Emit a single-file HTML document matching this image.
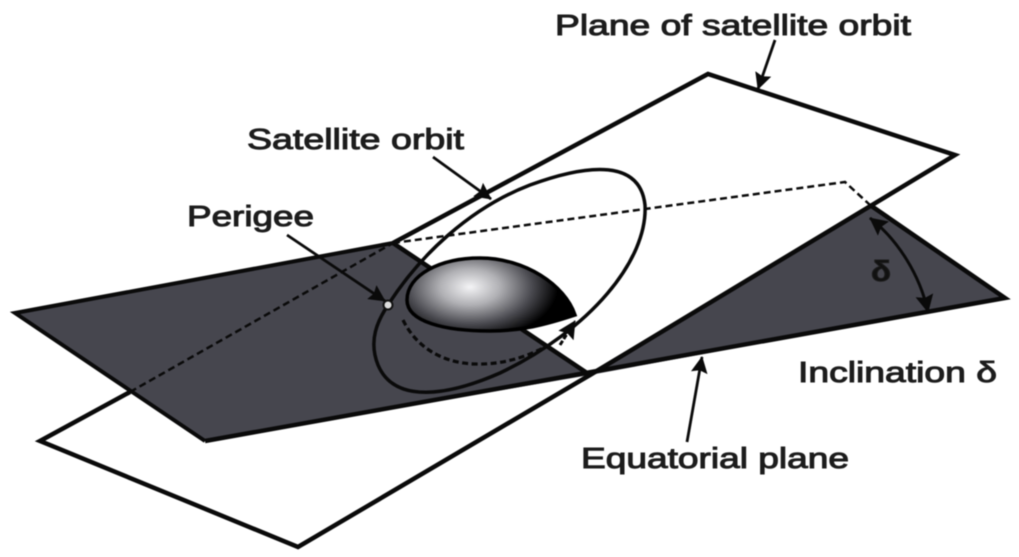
<!DOCTYPE html>
<html><head><meta charset="utf-8"><style>
html,body{margin:0;padding:0;background:#fff;width:1019px;height:557px;overflow:hidden}
svg{display:block;filter:blur(.6px)}
text{font-family:"Liberation Sans",sans-serif;font-size:29px;fill:#1c1c1c;stroke:#1c1c1c;stroke-width:1px}
</style></head><body>
<svg width="1019" height="557" viewBox="0 0 1019 557" xmlns="http://www.w3.org/2000/svg">
<defs>
<radialGradient id="s" gradientUnits="userSpaceOnUse" cx="470" cy="287" r="100" gradientTransform="translate(470 287) scale(1 .6) translate(-470 -287)">
<stop offset="0" stop-color="#f4f4f6"/><stop offset=".3" stop-color="#b0b0b4"/><stop offset=".62" stop-color="#4a4a50"/><stop offset=".88" stop-color="#000"/><stop offset="1" stop-color="#000"/></radialGradient>
<marker id="a" viewBox="0 0 10 10" refX="9.500" refY="5" markerWidth="6" markerHeight="6" orient="auto-start-reverse"><path d="M0 0L10 5L0 10L1.500 5z" fill="#0a0a0a"/></marker>
</defs>
<rect width="1019" height="557" fill="#fff"/>
<polygon points="15,313 393,243 590,375 205,441" fill="#46464e"/>
<polygon points="870,205 1005,298 590,375" fill="#46464e"/>
<g fill="none" stroke="#0a0a0a" stroke-linejoin="miter">
<path d="M205 441L15 313L393 243" stroke-width="4"/>
<path d="M205 441L1005 298L870 205M393 243L590 375" stroke-width="4.500"/>
<path d="M130 392L40 441L298 547L590 375L955 155L708 74L393 243" stroke-width="4.500"/>
<path d="M130 392L393 243" stroke-width="2.500" stroke-dasharray="7 4"/>
<path d="M393 243L845 182L870 205" stroke-width="2.500" stroke-dasharray="7 4"/>
<path d="M407 300C407 275 440 258 480 258C525 258 565 285 575 315C545 325 520 331 490 331C445 331 407 322 407 300Z" fill="url(#s)" stroke="#000" stroke-width="3.500"/>
<path d="M388 305C420 255 470 208 530 185C590 163 640 160 645 205C648 260 590 330 500 373C450 395 395 405 378 365C368 340 378 320 388 305" stroke-width="3.500"/>
<path d="M403 320C415 345 440 363 475 364C505 365 530 355 545 347" stroke-width="3.200" stroke-dasharray="6 3.500"/>
<path d="M560 345L575 321" stroke-width="3" stroke-dasharray="5 2" marker-end="url(#a)"/>
<path d="M287 235L385 301" stroke-width="2.800" marker-end="url(#a)"/>
<path d="M433 157L491 199" stroke-width="2.800" marker-end="url(#a)"/>
<path d="M775 40L758 89" stroke-width="2.800" marker-end="url(#a)"/>
<path d="M687 442L702 357" stroke-width="2.800" marker-end="url(#a)"/>
<path d="M870 218C898 240 920 275 928 312" stroke-width="3" marker-start="url(#a)" marker-end="url(#a)"/>
</g>
<circle cx="388" cy="305" r="4.500" fill="#ddd" stroke="#111" stroke-width="2"/>
<text x="555" y="35" textLength="356" lengthAdjust="spacingAndGlyphs">Plane of satellite orbit</text>
<text x="247" y="149" textLength="217" lengthAdjust="spacingAndGlyphs">Satellite orbit</text>
<text x="187" y="226" textLength="127" lengthAdjust="spacingAndGlyphs">Perigee</text>
<text x="798" y="382" textLength="199" lengthAdjust="spacingAndGlyphs">Inclination δ</text>
<text x="581" y="468" textLength="268" lengthAdjust="spacingAndGlyphs">Equatorial plane</text>
<text x="871" y="281" textLength="20" lengthAdjust="spacingAndGlyphs" style="font-weight:bold;fill:#111">δ</text>
</svg>
</body></html>
